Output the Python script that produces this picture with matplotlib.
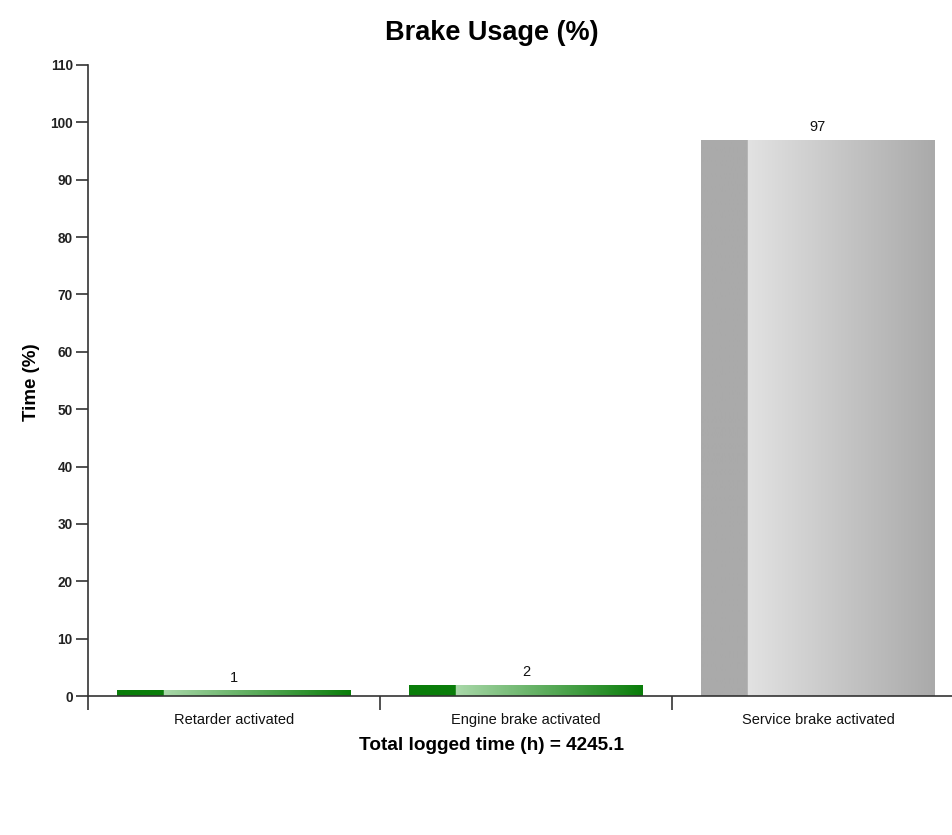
import numpy as np
import matplotlib
matplotlib.use("Agg")
import matplotlib.pyplot as plt
from matplotlib.colors import LinearSegmentedColormap

plt.rcParams['font.family'] = ['Liberation Sans', 'DejaVu Sans']

categories = ["Retarder activated", "Engine brake activated", "Service brake activated"]
values = [1, 2, 97]
title = "Brake Usage (%)"
ylabel = "Time (%)"
xlabel = "Total logged time (h) = 4245.1"
yticks = list(range(0, 111, 10))

styles = [
    ("#0a7d0a", "#a9d8a9", "#0a7d0a"),
    ("#0a7d0a", "#a9d8a9", "#0a7d0a"),
    ("#aaaaaa", "#e2e2e2", "#aaaaaa"),
]

fig = plt.figure(figsize=(9.53, 8.35), dpi=100)
ax = fig.add_axes([88/953, 139/835, (964-88)/953, (696-65)/835])

x = np.arange(len(categories))
bars = ax.bar(x, values, width=0.8, color="none", edgecolor="none")

for i, (b, (dark, light, end)) in enumerate(zip(bars, styles)):
    x0, w, h = b.get_x(), b.get_width(), b.get_height()
    n = 400
    grad = np.zeros((1, n, 3))
    cmap = LinearSegmentedColormap.from_list("g", [light, end])
    split = int(n * 0.2)
    grad[0, :split] = matplotlib.colors.to_rgb(dark)
    t = np.linspace(0, 1, n - split)
    grad[0, split:] = cmap(t)[:, :3]
    im = ax.imshow(grad, extent=[x0, x0 + w, 0, h], aspect="auto", zorder=2,
                   interpolation="bilinear")
    im.set_clip_path(b)
    ax.text(x0 + w / 2, h + 0.95, str(values[i]),
            ha="center", va="bottom", fontsize=10.5, color="#111111")

ax.set_aspect("auto")
ax.set_xlim(-0.5, len(categories) - 0.5)
ax.set_ylim(0, 110)

ax.spines["top"].set_visible(False)
ax.spines["right"].set_visible(False)
for s in ("left", "bottom"):
    ax.spines[s].set_color("#333333")
    ax.spines[s].set_linewidth(1.2)

ax.set_yticks(yticks)
ax.set_yticklabels([str(v) for v in yticks], fontsize=9.8, fontweight="bold",
                   color="#222222")
ax.tick_params(axis="y", length=9, width=1.2, color="#333333", pad=2)

ax.set_xticks(x)
ax.set_xticklabels(categories, fontsize=10.5, color="#111111")
ax.tick_params(axis="x", which="major", length=0, pad=12.5)
ax.set_xticks(np.arange(-0.5, len(categories)), minor=True)
ax.tick_params(axis="x", which="minor", length=10, width=1.2, color="#333333")

fig.text(492/953, 1 - 33/835, title, ha="center", va="center",
         fontsize=19.5, fontweight="bold")
fig.text(32/953, 1 - 382/835, ylabel, ha="center", va="center",
         rotation=90, fontsize=13.5, fontweight="bold")
fig.text(492/953, 1 - 745/835, xlabel, ha="center", va="center",
         fontsize=13.7, fontweight="bold")

fig.savefig("out.png", dpi=100, facecolor="white")
